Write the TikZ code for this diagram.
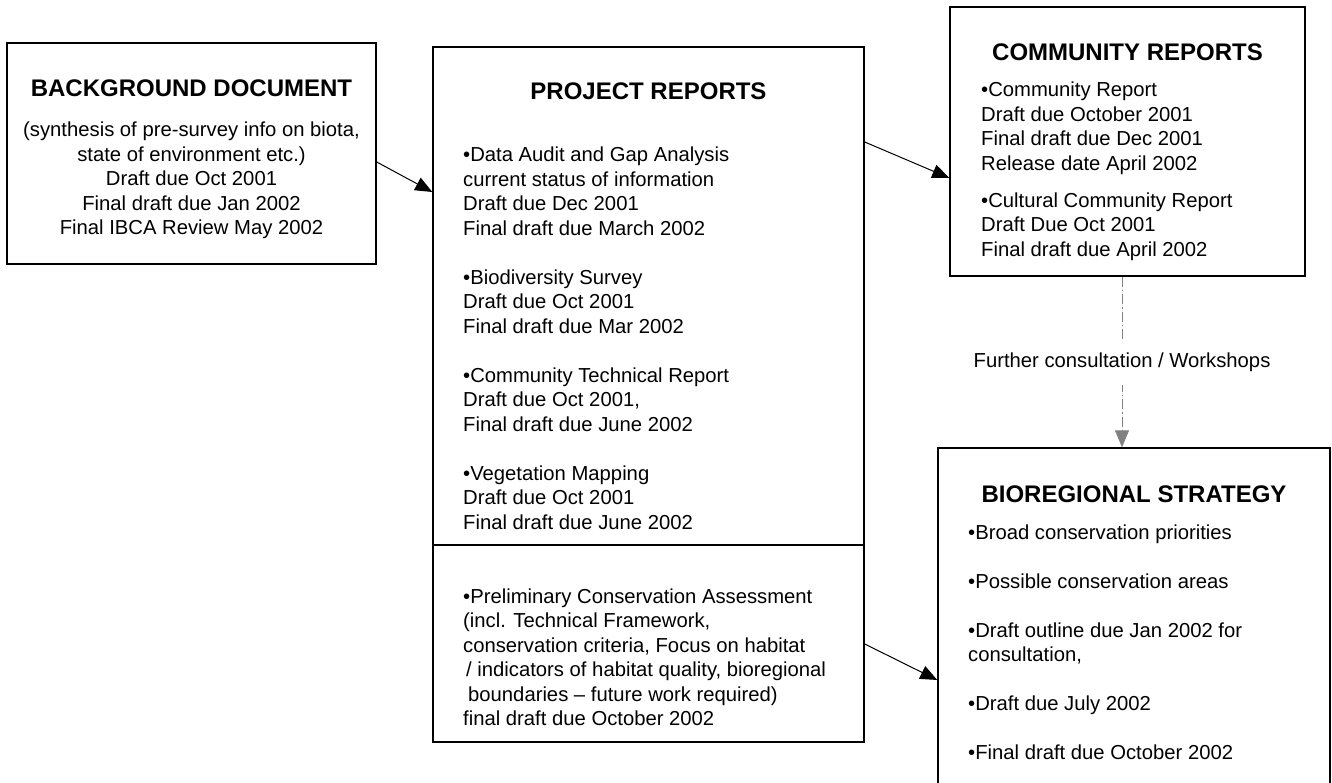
\documentclass[tikz,border=0pt]{standalone}
\usepackage{fontspec}
\setmainfont{Liberation Sans}
\usetikzlibrary{arrows.meta}
\definecolor{linegray}{HTML}{808080}
\begin{document}
\begin{tikzpicture}[x=1pt,y=-1pt,
  box/.style={draw, line width=1.4pt, inner sep=0pt, fill=none},
  title/.style={anchor=base, inner sep=0pt, font=\fontsize{24}{28}\selectfont\bfseries},
  body/.style={anchor=base west, inner sep=0pt, font=\fontsize{20.25}{24.5}\selectfont},
  cbody/.style={anchor=base, inner sep=0pt, font=\fontsize{20.25}{24.5}\selectfont},
  arr/.style={-{Triangle[length=17pt,width=14pt]}, line width=1pt},
  garr/.style={-{Triangle[length=17pt,width=14pt]}, line width=1pt, draw=linegray, fill=linegray,
    dash pattern=on 10pt off 3pt on 1.5pt off 3pt}
]
\useasboundingbox (0,0) rectangle (1332,783);
\clip (0,0) rectangle (1332,783);

% boxes
\node[box, minimum width=369pt, minimum height=221pt] (bg) at (191.5,153.5) {};
\node[box, minimum width=431pt, minimum height=695pt] (pr) at (648.5,394.5) {};
\node[box, minimum width=355pt, minimum height=269pt] (cr) at (1127.5,141.5) {};
\node[box, minimum width=392pt, minimum height=464pt] (bio) at (1134,680) {};

% divider in project reports
\draw[line width=1.4pt] ([yshift=-150.5pt]pr.west) -- ([yshift=-150.5pt]pr.east);

% titles
\node[title] (bgt) at (191.5,97) {BACKGROUND DOCUMENT};
\node[title] (prt) at (648.5,100) {PROJECT REPORTS};
\node[title] (crt) at (1127.5,61) {COMMUNITY REPORTS};
\node[title] (biot) at (1134,502) {BIOREGIONAL STRATEGY};

% bodies
\node[cbody] (bgb) at (191.5,137) {\parbox[t]{360pt}{\centering
(synthesis of pre-survey info on biota,\\
state of environment etc.)\\
Draft due Oct 2001\\
Final draft due Jan 2002\\
Final IBCA Review May 2002}};

\node[body] (prb) at (463,162) {\parbox[t]{390pt}{\raggedright
•Data Audit and Gap Analysis\\
current status of information\\
Draft due Dec 2001\\
Final draft due March 2002\\[24.5pt]
•Biodiversity Survey\\
Draft due Oct 2001\\
Final draft due Mar 2002\\[24.5pt]
•Community Technical Report\\
Draft due Oct 2001,\\
Final draft due June 2002\\[24.5pt]
•Vegetation Mapping\\
Draft due Oct 2001\\
Final draft due June 2002}};

\node[body] (prc) at (463,603) {\parbox[t]{395pt}{\raggedright
•Preliminary Conservation Assessment\\
(incl. Technical Framework,\\
conservation criteria, Focus on habitat\\
\hspace*{3pt}/ indicators of habitat quality, bioregional\\
\hspace*{5pt}boundaries – future work required)\\
final draft due October 2002}};

\node[body] (crb) at (981,97) {\parbox[t]{320pt}{\raggedright
•Community Report\\
Draft due October 2001\\
Final draft due Dec 2001\\
Release date April 2002\\[12.5pt]
•Cultural Community Report\\
Draft Due Oct 2001\\
Final draft due April 2002}};

\node[body] (biob) at (968,539) {\parbox[t]{350pt}{\raggedright
•Broad conservation priorities\\[24.5pt]
•Possible conservation areas\\[24.5pt]
•Draft outline due Jan 2002 for\\
consultation,\\[24.5pt]
•Draft due July 2002\\[24.5pt]
•Final draft due October 2002}};

% connectors
\draw[arr] ([yshift=-8.5pt]bg.east) -- ([yshift=202.5pt]pr.west);
\draw[arr] ([yshift=252.5pt]pr.east) -- ([yshift=-36.5pt]cr.west);
\draw[arr] ([yshift=-249.5pt]pr.east) -- ([yshift=0pt]bio.west);
\draw[garr] ([xshift=-5.5pt]cr.south) -- node[fill=white, text=black, inner xsep=2pt, inner ysep=14pt,
   font=\fontsize{20.25}{24.5}\selectfont] (lab) {Further consultation / Workshops} ([xshift=-12pt]bio.north);
\end{tikzpicture}
\end{document}
